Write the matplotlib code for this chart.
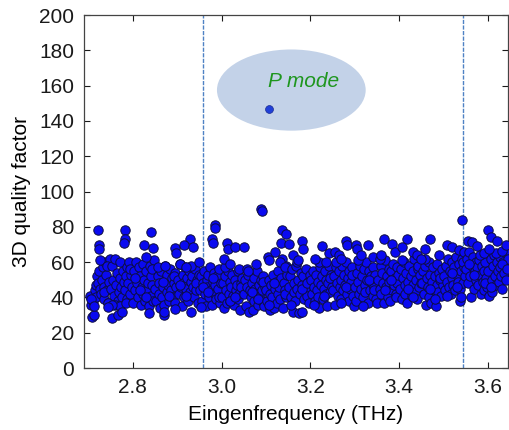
import matplotlib
matplotlib.use("Agg")
import matplotlib.pyplot as plt
from matplotlib.patches import Ellipse

plt.rcParams['font.family'] = ['Liberation Sans', 'DejaVu Sans']

# ---- data: (eigenfrequency THz, 3D quality factor) ----
freq = [
    # 2.70-2.75
    2.703, 2.705, 2.708, 2.710, 2.712, 2.714, 2.716, 2.718, 2.720, 2.722, 2.724, 2.726, 2.728, 2.730,
    2.732, 2.734, 2.736, 2.738, 2.740, 2.742, 2.744, 2.746, 2.748, 2.706, 2.713, 2.727, 2.735, 2.741,
    2.721, 2.723, 2.724,
    # 2.75-2.80
    2.751, 2.753, 2.756, 2.758, 2.760, 2.762, 2.764, 2.766, 2.768, 2.770, 2.772, 2.774, 2.776, 2.778,
    2.780, 2.782, 2.784, 2.786, 2.788, 2.790, 2.792, 2.794, 2.796, 2.798, 2.759, 2.771, 2.785, 2.793,
    2.783, 2.782, 2.781, 2.754, 2.766, 2.776, 2.745, 2.754, 2.743,
    # 2.80-2.85
    2.801, 2.803, 2.806, 2.808, 2.810, 2.812, 2.814, 2.816, 2.818, 2.820, 2.822, 2.824, 2.826, 2.828,
    2.830, 2.832, 2.834, 2.836, 2.838, 2.840, 2.842, 2.844, 2.846, 2.848, 2.805, 2.817, 2.829, 2.843,
    2.841, 2.826, 2.846, 2.830, 2.836,
    # 2.85-2.90
    2.851, 2.853, 2.856, 2.858, 2.860, 2.862, 2.864, 2.866, 2.868, 2.870, 2.872, 2.874, 2.876, 2.878,
    2.880, 2.882, 2.884, 2.886, 2.888, 2.890, 2.892, 2.894, 2.896, 2.898, 2.857, 2.869, 2.881, 2.893,
    2.896, 2.897, 2.873, 2.870, 2.871,
    # 2.90-2.95
    2.901, 2.903, 2.906, 2.908, 2.910, 2.912, 2.914, 2.916, 2.918, 2.920, 2.922, 2.924, 2.926, 2.928,
    2.930, 2.932, 2.934, 2.936, 2.938, 2.940, 2.942, 2.944, 2.946, 2.948, 2.907, 2.919, 2.931, 2.943,
    2.929, 2.916, 2.935, 2.906, 2.920, 2.896,
    # 2.95-3.00
    2.951, 2.953, 2.956, 2.958, 2.960, 2.962, 2.964, 2.966, 2.968, 2.970, 2.972, 2.974, 2.976, 2.978,
    2.980, 2.982, 2.984, 2.986, 2.988, 2.990, 2.992, 2.994, 2.996, 2.998, 2.957, 2.969, 2.981, 2.993,
    2.986, 2.984, 2.978, 2.980, 2.950, 2.954,
    # 3.00-3.05
    3.001, 3.003, 3.006, 3.008, 3.010, 3.012, 3.014, 3.016, 3.018, 3.020, 3.022, 3.024, 3.026, 3.028,
    3.030, 3.032, 3.034, 3.036, 3.038, 3.040, 3.042, 3.044, 3.046, 3.048, 3.007, 3.019, 3.031, 3.043,
    3.013, 3.015, 3.030, 3.050, 3.005, 3.020, 3.040,
    # 3.05-3.10
    3.051, 3.053, 3.056, 3.058, 3.060, 3.062, 3.064, 3.066, 3.068, 3.070, 3.072, 3.074, 3.076, 3.078,
    3.080, 3.082, 3.084, 3.086, 3.088, 3.090, 3.092, 3.094, 3.096, 3.098, 3.057, 3.069, 3.081, 3.093,
    3.088, 3.090, 3.077, 3.060,
    # 3.10-3.15
    3.101, 3.103, 3.106, 3.108, 3.110, 3.112, 3.114, 3.116, 3.118, 3.120, 3.122, 3.124, 3.126, 3.128,
    3.130, 3.132, 3.134, 3.136, 3.138, 3.140, 3.142, 3.144, 3.146, 3.148, 3.107, 3.119, 3.131, 3.143,
    3.136, 3.146, 3.134, 3.152, 3.105, 3.106, 3.143, 3.120,
    # 3.15-3.20
    3.151, 3.153, 3.156, 3.158, 3.160, 3.162, 3.164, 3.166, 3.168, 3.170, 3.172, 3.174, 3.176, 3.178,
    3.180, 3.182, 3.184, 3.186, 3.188, 3.190, 3.192, 3.194, 3.196, 3.198, 3.157, 3.169, 3.181, 3.193,
    3.180, 3.183, 3.160, 3.172,
    # 3.20-3.25
    3.201, 3.203, 3.206, 3.208, 3.210, 3.212, 3.214, 3.216, 3.218, 3.220, 3.222, 3.224, 3.226, 3.228,
    3.230, 3.232, 3.234, 3.236, 3.238, 3.240, 3.242, 3.244, 3.246, 3.248, 3.207, 3.219, 3.231, 3.243,
    3.225, 3.242, 3.210, 3.235,
    # 3.25-3.30
    3.251, 3.253, 3.256, 3.258, 3.260, 3.262, 3.264, 3.266, 3.268, 3.270, 3.272, 3.274, 3.276, 3.278,
    3.280, 3.282, 3.284, 3.286, 3.288, 3.290, 3.292, 3.294, 3.296, 3.298, 3.257, 3.269, 3.281, 3.293,
    3.280, 3.283, 3.255, 3.265, 3.270,
    # 3.30-3.35
    3.301, 3.303, 3.306, 3.308, 3.310, 3.312, 3.314, 3.316, 3.318, 3.320, 3.322, 3.324, 3.326, 3.328,
    3.330, 3.332, 3.334, 3.336, 3.338, 3.340, 3.342, 3.344, 3.346, 3.348, 3.307, 3.319, 3.331, 3.343,
    3.302, 3.306, 3.330, 3.315, 3.340,
    # 3.35-3.40
    3.351, 3.353, 3.356, 3.358, 3.360, 3.362, 3.364, 3.366, 3.368, 3.370, 3.372, 3.374, 3.376, 3.378,
    3.380, 3.382, 3.384, 3.386, 3.388, 3.390, 3.392, 3.394, 3.396, 3.398, 3.357, 3.369, 3.381, 3.393,
    3.366, 3.383, 3.390, 3.360,
    # 3.40-3.45
    3.401, 3.403, 3.406, 3.408, 3.410, 3.412, 3.414, 3.416, 3.418, 3.420, 3.422, 3.424, 3.426, 3.428,
    3.430, 3.432, 3.434, 3.436, 3.438, 3.440, 3.442, 3.444, 3.446, 3.448, 3.407, 3.419, 3.431, 3.443,
    3.418, 3.407, 3.430, 3.440,
    # 3.45-3.50
    3.451, 3.453, 3.456, 3.458, 3.460, 3.462, 3.464, 3.466, 3.468, 3.470, 3.472, 3.474, 3.476, 3.478,
    3.480, 3.482, 3.484, 3.486, 3.488, 3.490, 3.492, 3.494, 3.496, 3.498, 3.457, 3.469, 3.481, 3.493,
    3.470, 3.459, 3.490, 3.450,
    # 3.50-3.55
    3.501, 3.503, 3.506, 3.508, 3.510, 3.512, 3.514, 3.516, 3.518, 3.520, 3.522, 3.524, 3.526, 3.528,
    3.530, 3.532, 3.534, 3.536, 3.538, 3.540, 3.542, 3.544, 3.546, 3.548, 3.507, 3.519, 3.531, 3.543,
    3.542, 3.508, 3.519, 3.535, 3.545, 3.540,
    # 3.55-3.60
    3.551, 3.553, 3.556, 3.558, 3.560, 3.562, 3.564, 3.566, 3.568, 3.570, 3.572, 3.574, 3.576, 3.578,
    3.580, 3.582, 3.584, 3.586, 3.588, 3.590, 3.592, 3.594, 3.596, 3.598, 3.557, 3.569, 3.581, 3.593,
    3.554, 3.565, 3.575, 3.590,
    # 3.60-3.645
    3.601, 3.603, 3.606, 3.608, 3.610, 3.612, 3.614, 3.616, 3.618, 3.620, 3.622, 3.624, 3.626, 3.628,
    3.630, 3.632, 3.634, 3.636, 3.638, 3.640, 3.642, 3.644, 3.607, 3.619, 3.631, 3.643,
    3.601, 3.606, 3.621, 3.632, 3.603, 3.640,
]

quality = [
    41, 36, 29, 38, 30, 44, 47, 40, 52, 48, 55, 45, 42, 50,
    57, 39, 46, 60, 53, 44, 37, 49, 62, 39, 35, 61, 43, 58,
    78, 70, 67.5,
    45, 58, 50, 41, 62, 47, 54, 38, 43, 51, 60, 46, 40, 55,
    49, 44, 52, 57, 39, 48, 60, 42, 53, 46, 36, 35, 37, 56,
    78, 73, 71, 28.5, 30, 32, 37, 35.5, 34.5,
    37, 55, 44, 60, 48, 40, 57, 52, 36, 46, 59, 42, 50, 38,
    55, 44, 48, 35, 58, 41, 52, 47, 38, 61, 51, 44, 40, 56,
    77, 69.5, 68, 63, 31,
    45, 38, 52, 42, 48, 34, 55, 40, 46, 36, 58, 50, 43, 53,
    47, 38, 56, 44, 51, 40, 48, 54, 37, 46, 57, 49, 41, 52,
    68, 65, 58, 30, 32,
    50, 42, 59, 46, 35, 53, 48, 40, 57, 45, 51, 38, 55, 43,
    49, 32, 52, 46, 40, 56, 44, 50, 37, 53, 47, 41, 58, 48,
    73, 69.5, 68.5, 59, 57, 33.5,
    44, 52, 38, 48, 55, 42, 35, 50, 46, 53, 40, 57, 44, 36,
    49, 54, 42, 47, 39, 52, 45, 56, 37, 48, 46, 43, 51, 40,
    81, 79.5, 73, 71, 60, 34.5,
    40, 48, 34, 52, 44, 37, 55, 42, 49, 38, 46, 53, 41, 36,
    50, 44, 47, 39, 55, 42, 33, 48, 51, 45, 57, 38, 40, 46,
    71, 67.5, 68.5, 68.5, 62, 59, 56,
    42, 50, 35, 46, 53, 32, 44, 40, 48, 33, 51, 38, 45, 42,
    55, 36, 47, 41, 50, 38, 44, 52, 35, 46, 56, 43, 39, 49,
    90, 89, 59, 55,
    44, 38, 50, 42, 33, 47, 40, 53, 34, 45, 49, 37, 55, 42,
    46, 39, 51, 62, 34, 48, 44, 58, 40, 53, 36, 48, 60, 42,
    78, 76, 71, 70.5, 63, 61, 57, 66,
    46, 52, 40, 56, 32, 48, 43, 38, 58, 45, 50, 31, 42, 54,
    47, 32, 52, 39, 44, 56, 41, 49, 37, 53, 36, 60, 45, 48,
    72, 67.5, 64, 61,
    50, 42, 55, 46, 38, 53, 44, 49, 40, 34, 57, 47, 52, 39,
    45, 55, 42, 50, 35, 48, 58, 43, 53, 46, 36, 60, 41, 51,
    69, 65, 62, 60,
    44, 52, 36, 57, 48, 41, 55, 46, 50, 39, 58, 44, 53, 47,
    60, 42, 51, 38, 55, 45, 49, 57, 41, 35, 60, 37, 46, 53,
    72, 69.5, 66, 64, 62,
    46, 38, 54, 49, 42, 58, 45, 52, 40, 56, 47, 43, 60, 50,
    37, 55, 44, 52, 48, 41, 57, 46, 53, 39, 61, 35, 50, 44,
    69.5, 67.5, 69.5, 64, 63,
    37, 50, 45, 58, 42, 54, 48, 37, 61, 46, 52, 40, 56, 49,
    38, 55, 44, 59, 47, 51, 42, 57, 48, 53, 62, 44, 50, 40,
    73, 70.5, 66, 64,
    45, 56, 39, 51, 60, 47, 42, 54, 37, 49, 58, 44, 52, 41,
    47, 55, 62, 43, 50, 39, 56, 46, 53, 48, 61, 45, 40, 58,
    73, 68.5, 66, 64,
    48, 55, 42, 58, 36, 51, 46, 60, 40, 53, 37, 49, 57, 44,
    52, 35, 47, 59, 43, 54, 50, 41, 56, 47, 62, 45, 39, 51,
    73, 67.5, 64, 62,
    52, 44, 58, 49, 62, 46, 55, 42, 60, 51, 47, 57, 44, 63,
    53, 49, 59, 45, 38, 55, 62, 48, 57, 52, 41, 54, 46, 60,
    84, 69.5, 68.5, 67, 66, 40,
    56, 62, 48, 66, 52, 40, 58, 63, 45, 55, 60, 50, 57, 47,
    61, 53, 42, 58, 49, 55, 44, 60, 51, 46, 59, 53, 64, 48,
    72, 71.5, 69, 65,
    55, 41, 62, 50, 43, 58, 64, 52, 47, 60, 55, 49, 63, 57,
    52, 45, 60, 54, 66, 50, 58, 62, 46, 65, 59, 56,
    78, 74, 72, 66.5, 67.5, 70,
]

# highlighted P mode
p_mode_freq = [3.106]
p_mode_q = [146.7]

# band edges (vertical dashed lines)
band_edges = [2.957, 3.544]

x_ticks = [2.8, 3.0, 3.2, 3.4, 3.6]
y_ticks = [0, 20, 40, 60, 80, 100, 120, 140, 160, 180, 200]

# annotation ellipse (data coordinates)
ell_center = (3.157, 157.5)
ell_size = (0.335, 46)
label_pos = (3.184, 162.5)

fig = plt.figure(figsize=(5.09, 4.30), dpi=100)
ax = fig.add_axes([0.165, 0.144, 0.833, 0.821])

ax.add_patch(Ellipse(ell_center, ell_size[0], ell_size[1], facecolor='#c3d2e8',
                     edgecolor='none', zorder=1))

for xv in band_edges:
    ax.axvline(xv, color='#4f82c4', lw=1.0, ls=(0, (3, 1)), zorder=2)

ax.scatter(freq, quality, s=46, facecolor='#0a0af0', edgecolor='#0d0d40',
           linewidths=0.7, zorder=3)
ax.scatter(p_mode_freq, p_mode_q, s=32, facecolor='#2040d8', edgecolor='#1a2a90',
           linewidths=0.5, zorder=4)

ax.text(label_pos[0], label_pos[1], 'P mode', color='#1e961e', fontsize=15,
        style='italic', ha='center', va='center', zorder=5)

ax.set_xlim(2.69, 3.645)
ax.set_ylim(0, 200)
ax.set_xticks(x_ticks)
ax.set_xticklabels([f'{t:.1f}' for t in x_ticks])
ax.set_yticks(y_ticks)
ax.tick_params(direction='in', length=4, width=0.8, top=True, right=True,
               labelsize=15, colors='#1a1a1a', pad=7)
for sp in ax.spines.values():
    sp.set_color('#444444')
    sp.set_linewidth(0.9)

ax.set_xlabel('Eingenfrequency (THz)', fontsize=15, labelpad=6)
ax.set_ylabel('3D quality factor', fontsize=15, labelpad=6)

fig.savefig('out.png', dpi=100)
